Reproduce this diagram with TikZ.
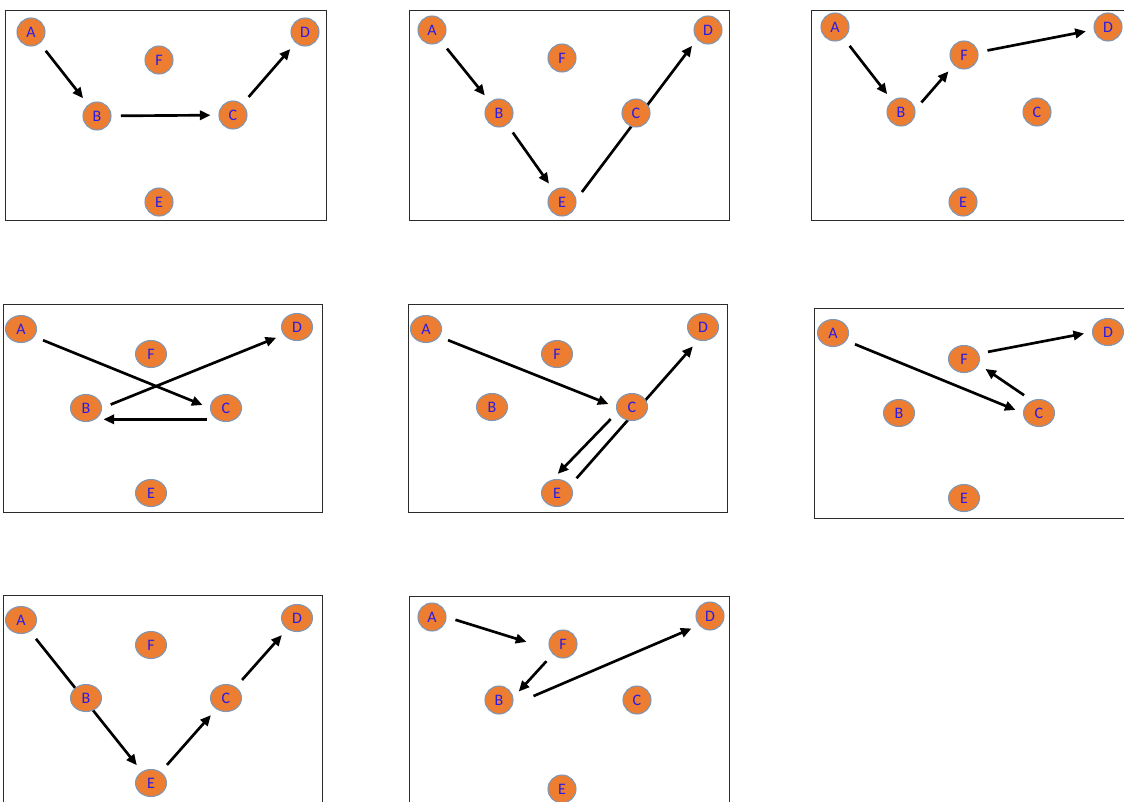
\documentclass[tikz,border=0pt]{standalone}
\usepackage{fontspec}
\usepackage{tikz}
\usetikzlibrary{arrows.meta,shapes.geometric,backgrounds}
\newfontfamily\lblfont{Carlito}
\definecolor{vxorange}{HTML}{ED7D31}
\definecolor{vxedge}{HTML}{7F97B5}
\definecolor{vxtext}{HTML}{2A1BE6}
\definecolor{frgrey}{HTML}{2B2B2B}
\tikzset{
  panel/.style   = {draw=frgrey, line width=0.75pt},
  vertex/.style  = {circle, draw=vxedge, fill=vxorange, line width=0.8pt,
                    minimum size=21pt, inner sep=0pt, text=vxtext,
                    font=\lblfont\fontsize{12}{12}\selectfont},
  vertexw/.style = {vertex, ellipse, minimum width=23.25pt,
                    minimum height=20.25pt},
  hop/.style     = {-{Triangle[length=8pt,width=7pt]}, line width=2pt,
                    shorten <=7pt, shorten >=6pt},
}

\begin{document}
\begin{tikzpicture}[x=0.75pt, y=-0.75pt]

  \useasboundingbox (0,0) rectangle (1124,801);

  % panel 1: A - B - C - D
  \draw[panel] (5,10) rectangle (326,220);
  \node[vertex] (a1) at (31,32)   {A};
  \node[vertex] (b1) at (97,116)  {B};
  \node[vertex] (c1) at (233,115) {C};
  \node[vertex] (d1) at (305,32)  {D};
  \node[vertex] (e1) at (159,202) {E};
  \node[vertex] (f1) at (159,60)  {F};
  \begin{pgfonlayer}{background}
    \draw[hop] (a1) -- (b1);
    \draw[hop] (b1) -- (c1);
    \draw[hop] (c1) -- (d1);
  \end{pgfonlayer}

  % panel 2: A - B - E - D, running behind C
  \draw[panel] (409,10) rectangle (729,220);
  \node[vertex] (a2) at (432,30)  {A};
  \node[vertex] (b2) at (499,113) {B};
  \node[vertex] (c2) at (636,113) {C};
  \node[vertex] (d2) at (708,30)  {D};
  \node[vertex] (e2) at (562,202) {E};
  \node[vertex] (f2) at (562,58)  {F};
  \begin{pgfonlayer}{background}
    \draw[hop] (a2) -- (b2);
    \draw[hop] (b2) -- (e2);
    \draw[hop] (e2.10) -- (d2.-140);
  \end{pgfonlayer}

  % panel 3: A - B - F - D
  \draw[panel] (811,10) rectangle (1130,220);
  \node[vertex] (a3) at (835,27)   {A};
  \node[vertex] (b3) at (901,112)  {B};
  \node[vertex] (c3) at (1037,112) {C};
  \node[vertex] (d3) at (1108,27)  {D};
  \node[vertex] (e3) at (963,202)  {E};
  \node[vertex] (f3) at (964,55)   {F};
  \begin{pgfonlayer}{background}
    \draw[hop] (a3) -- (b3);
    \draw[hop] (b3.10) -- (f3.-135);
    \draw[hop] (f3) -- (d3);
  \end{pgfonlayer}

  % panel 4: A - C - B - D
  \draw[panel] (3,304) rectangle (322,512);
  \node[vertexw] (a4) at (21,329)  {A};
  \node[vertexw] (b4) at (86,408)  {B};
  \node[vertexw] (c4) at (226,408) {C};
  \node[vertexw] (d4) at (297,327) {D};
  \node[vertexw] (e4) at (151,493) {E};
  \node[vertexw] (f4) at (151,354) {F};
  \begin{pgfonlayer}{background}
    \draw[hop] (a4.-30) -- (c4.west);
    \draw[hop] (c4.-130) -- (b4.-50);
    \draw[hop] (b4.east) -- (d4.-150);
  \end{pgfonlayer}

  % panel 5: A - C - E - D, back past C
  \draw[panel] (408,304) rectangle (727,512);
  \node[vertexw] (a5) at (426,329) {A};
  \node[vertexw] (b5) at (492,407) {B};
  \node[vertexw] (c5) at (632,407) {C};
  \node[vertexw] (d5) at (703,327) {D};
  \node[vertexw] (e5) at (557,493) {E};
  \node[vertexw] (f5) at (557,354) {F};
  \begin{pgfonlayer}{background}
    \draw[hop] (a5.-30) -- (c5.west);
    \draw[hop] (c5.-160) -- (e5.110);
    \draw[hop] (e5.30) -- (d5.-110);
  \end{pgfonlayer}

  % panel 6: A - C - F - D
  \draw[panel] (814,308) rectangle (1130,518);
  \node[vertexw] (a6) at (833,333)  {A};
  \node[vertexw] (b6) at (899,413)  {B};
  \node[vertexw] (c6) at (1039,413) {C};
  \node[vertexw] (d6) at (1108,332) {D};
  \node[vertexw] (e6) at (964,498)  {E};
  \node[vertexw] (f6) at (964,359)  {F};
  \begin{pgfonlayer}{background}
    \draw[hop] (a6.-30) -- (c6.west);
    \draw[hop] (c6.120) -- (f6.-20);
    \draw[hop] (f6.20) -- (d6.west);
  \end{pgfonlayer}

  % panel 7: A - B - E - C - D
  \draw[panel] (3,595) rectangle (322,810);
  \node[vertexw] (a7) at (21,620)  {A};
  \node[vertexw] (b7) at (86,698)  {B};
  \node[vertexw] (c7) at (226,698) {C};
  \node[vertexw] (d7) at (297,618) {D};
  \node[vertexw] (e7) at (151,783) {E};
  \node[vertexw] (f7) at (151,645) {F};
  \begin{pgfonlayer}{background}
    \draw[hop] (a7) -- (e7);
    \draw[hop] (e7) -- (c7);
    \draw[hop] (c7) -- (d7);
  \end{pgfonlayer}

  % panel 8: A - F - B - D
  \draw[panel] (409,596) rectangle (729,810);
  \node[vertex] (a8) at (432,617) {A};
  \node[vertex] (b8) at (499,700) {B};
  \node[vertex] (c8) at (637,700) {C};
  \node[vertex] (d8) at (710,616) {D};
  \node[vertex] (e8) at (562,789) {E};
  \node[vertex] (f8) at (563,644) {F};
  \begin{pgfonlayer}{background}
    \draw[hop, shorten >=18pt] (a8.east) -- (f8.-160);
    \draw[hop] (f8.-135) -- (b8.10);
    \draw[hop, shorten <=17pt] (b8.-20) -- (d8.-140);
  \end{pgfonlayer}

\end{tikzpicture}
\end{document}
